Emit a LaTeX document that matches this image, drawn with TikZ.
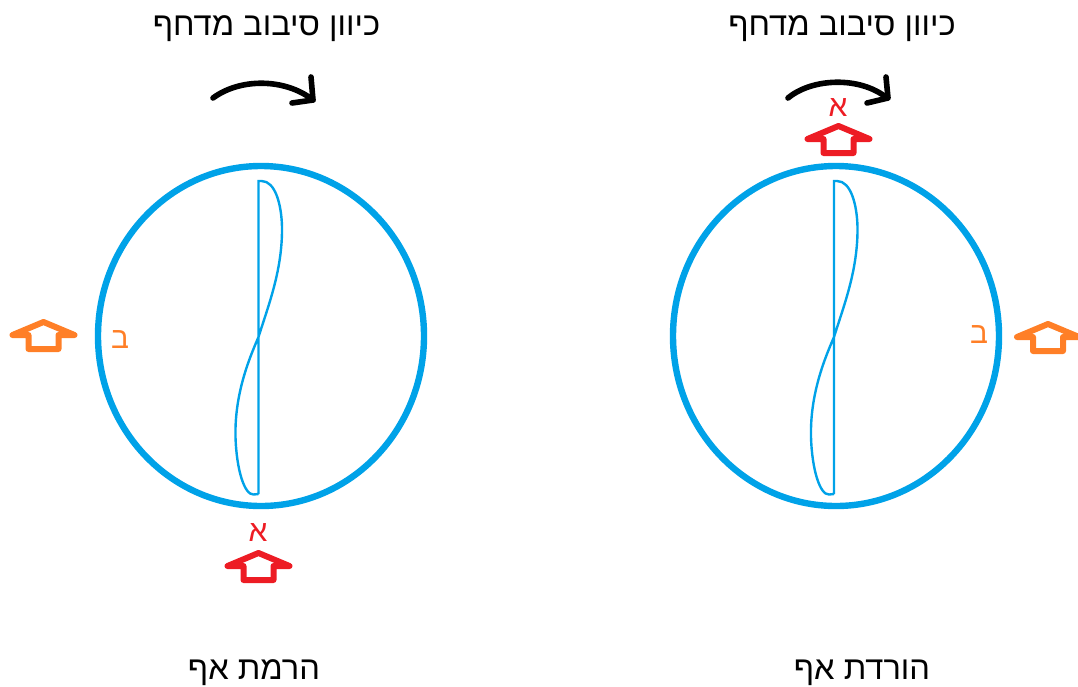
\documentclass[tikz,border=0pt]{standalone}
\usepackage{fontspec}
\TeXXeTstate=1
\setmainfont{Liberation Sans}
\newfontfamily\hebfont[Script=Hebrew]{Liberation Sans}
\definecolor{pblue}{HTML}{00A2E8}
\definecolor{pred}{HTML}{ED1C24}
\definecolor{porange}{HTML}{FF7F27}
\tikzset{
  disc/.style={draw=pblue,line width=4.8pt},
  blade/.style={draw=pblue,line width=1.8pt},
  turn/.style={draw=black,line width=4.2pt,line cap=round,line join=round},
  house/.style={line width=4.5pt,line join=round,line cap=round},
  title/.style={font=\hebfont\fontsize{24.5}{28}\selectfont,text=black,inner sep=0pt},
  letter/.style={font=\hebfont\fontsize{22.5}{26}\selectfont,inner sep=0pt}
}
\newcommand{\airhouse}[3]{\draw[house,draw=#3,shift={(#1,#2)}] (-31,0) -- (0,-13) -- (31,0) -- (15,0) -- (15,14) -- (-15,14) -- (-15,0) -- cycle;}
\newcommand{\bladeshape}[1]{\draw[blade,shift={(#1,0)}] (0,494) -- (0,181) -- (3,181) .. controls (17,181) and (23,205) .. (23.5,227) .. controls (24,270) and (10,305) .. (0,337) .. controls (-10,360) and (-24,395) .. (-23,437) .. controls (-22,470) and (-14,495) .. (-5,494.5) -- (0,494);}
\begin{document}
\begin{tikzpicture}[x=0.75pt,y=-0.75pt]
\useasboundingbox (0,0) rectangle (1078,686);
% discs
\draw[disc] (261,336) ellipse [x radius=163,y radius=170];
\draw[disc] (836,336) ellipse [x radius=163,y radius=170];
\bladeshape{258.5}
\bladeshape{834}
% rotation arrows
\draw[turn] (213,98) .. controls (240,78) and (285,78) .. (313,100);
\draw[turn] (311,77) -- (313,100) -- (292,103);
\draw[turn] (788,98) .. controls (812,78) and (860,76) .. (887,98);
\draw[turn] (886,77) -- (888,98) -- (867,103);
% airflow arrows
\airhouse{43.5}{335}{porange}
\airhouse{1048}{337}{porange}
\airhouse{838.5}{139}{pred}
\airhouse{258.5}{566}{pred}
% labels
\node[title] (t1) at (266.5,28.5) {\beginR כיוון סיבוב מדחף\endR};
\node[title] (t2) at (842,28.5) {\beginR כיוון סיבוב מדחף\endR};
\node[title] (t3) at (254,673) {\beginR הרמת אף\endR};
\node[title] (t4) at (862,673) {\beginR הורדת אף\endR};
\node[letter,text=pred] (a1) at (838,108) {\beginR א\endR};
\node[letter,text=pred] (a2) at (258,533) {\beginR א\endR};
\node[letter,text=porange] (b1) at (120,340) {\beginR ב\endR};
\node[letter,text=porange] (b2) at (979,335) {\beginR ב\endR};
\end{tikzpicture}
\end{document}
